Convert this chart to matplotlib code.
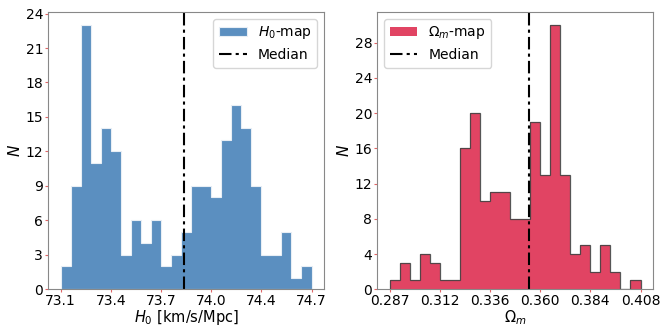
import numpy as np
import matplotlib
matplotlib.use("Agg")
import matplotlib.pyplot as plt

# Histogram counts per bin (25 equal-width bins each)
h0_range = (73.12, 74.66)
h0_counts = [2, 9, 23, 11, 14, 12, 3, 6, 4, 6, 2, 3, 5,
             9, 9, 8, 13, 16, 14, 9, 3, 3, 5, 1, 2]
h0_median = 73.88
h0_ticklabels = ["73.1", "73.4", "73.7", "74.0", "74.4", "74.7"]
h0_yticks = [0, 3, 6, 9, 12, 15, 18, 21, 24]

om_range = (0.2874, 0.4083)
om_counts = [1, 3, 1, 4, 3, 1, 1, 16, 20, 10, 11, 11, 8,
             8, 19, 13, 30, 13, 4, 5, 2, 5, 2, 0, 1]
om_median = 0.3546
om_ticklabels = ["0.287", "0.312", "0.336", "0.360", "0.384", "0.408"]
om_yticks = [0, 4, 8, 12, 16, 20, 24, 28]

blue = "#5b8fc0"
red = "#e14463"

plt.rcParams["font.family"] = "DejaVu Sans"
plt.rcParams["mathtext.fontset"] = "dejavusans"

fig = plt.figure(figsize=(6.62, 3.28), dpi=100)
ax1 = fig.add_axes([0.0725, 0.118, 0.417, 0.846])
ax2 = fig.add_axes([0.5695, 0.118, 0.417, 0.846])


def style(ax):
    for s in ax.spines.values():
        s.set_color("#888888")
    ax.tick_params(axis="both", direction="out", length=2.0, width=0.8,
                   color="#e06666", labelsize=10, pad=1.5)


# Left panel: H0
edges1 = np.linspace(h0_range[0], h0_range[1], len(h0_counts) + 1)
ax1.hist(edges1[:-1], bins=edges1, weights=h0_counts, histtype="stepfilled",
         facecolor=blue, edgecolor="#e8eef5", linewidth=0.8, label=r"$H_0$-map")
ax1.axvline(h0_median, color="black", linestyle=(0, (6, 2, 1.5, 2)),
            linewidth=1.5, label="Median")
ax1.set_xticks(np.linspace(h0_range[0], h0_range[1], 6))
ax1.set_xticklabels(h0_ticklabels)
ax1.set_yticks(h0_yticks)
ax1.set_xlabel(r"$H_0$ [km/s/Mpc]", fontsize=10.5, labelpad=0)
ax1.set_ylabel(r"$N$", fontsize=11, labelpad=2)
style(ax1)
ax1.legend(loc="upper right", fontsize=10, handlelength=2.0)

# Right panel: Omega_m
edges2 = np.linspace(om_range[0], om_range[1], len(om_counts) + 1)
ax2.hist(edges2[:-1], bins=edges2, weights=om_counts, histtype="stepfilled",
         facecolor=red, edgecolor="none", label=r"$\Omega_m$-map")
ax2.hist(edges2[:-1], bins=edges2, weights=om_counts, histtype="step",
         edgecolor="#444444", linewidth=0.9, alpha=0.9)
ax2.axvline(om_median, color="black", linestyle=(0, (6, 2, 1.5, 2)),
            linewidth=1.5, label="Median")
ax2.set_xticks(np.linspace(om_range[0], om_range[1], 6))
ax2.set_xticklabels(om_ticklabels)
ax2.set_yticks(om_yticks)
ax2.set_xlabel(r"$\Omega_m$", fontsize=10.5, labelpad=0)
ax2.set_ylabel(r"$N$", fontsize=11, labelpad=2)
style(ax2)
ax2.legend(loc="upper left", fontsize=10, handlelength=2.0)

fig.savefig("out.png", dpi=100)
